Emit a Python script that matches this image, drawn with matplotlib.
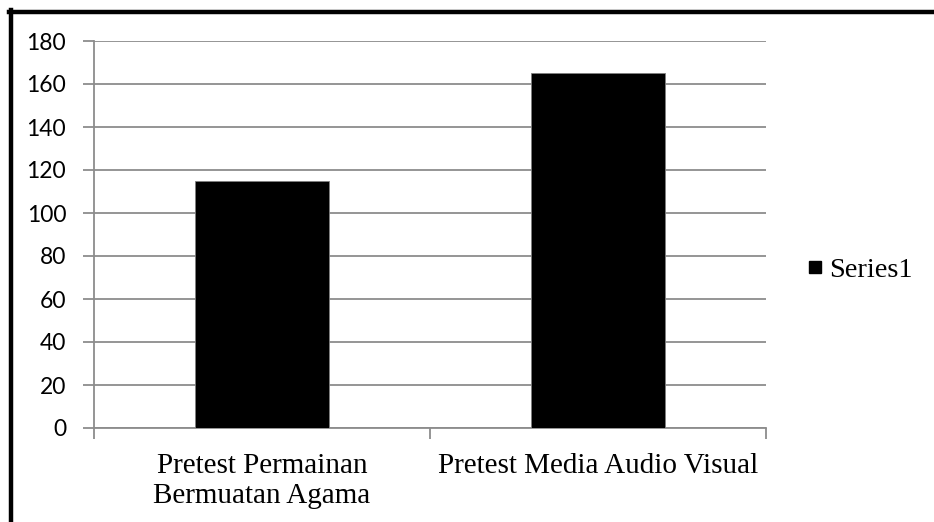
import matplotlib
matplotlib.use("Agg")
import matplotlib.pyplot as plt
from matplotlib.lines import Line2D

categories = ["Pretest Permainan\nBermuatan Agama", "Pretest Media Audio Visual"]
values = [115, 165]
series_name = "Series1"
y_ticks = [0, 20, 40, 60, 80, 100, 120, 140, 160, 180]

W, H = 934, 522
fig = plt.figure(figsize=(W / 100, H / 100), dpi=100)
fig.patch.set_facecolor("white")

ax = fig.add_axes([94 / W, 1 - 428 / H, (766 - 94) / W, (428 - 41) / H])
grid_c = "#8c8c8c"

x = list(range(len(categories)))
bars = ax.bar(x, values, width=0.4, color="black", edgecolor="#808080",
              linewidth=0.6, label=series_name, zorder=3)

ax.set_xlim(-0.5, len(categories) - 0.5)
ax.set_ylim(0, 180)
ax.set_yticks(y_ticks)
ax.set_yticklabels([str(t) for t in y_ticks], fontfamily="Lato", fontsize=16.5)
ax.yaxis.grid(True, color=grid_c, linewidth=1.3, zorder=0)

# category labels centered, tick marks on category boundaries
ax.set_xticks(x)
ax.set_xticklabels(categories, fontfamily="Liberation Serif", fontsize=21,
                   linespacing=1.22)
ax.tick_params(axis="x", length=0, pad=18)
ax.set_xticks([i - 0.5 for i in range(len(categories) + 1)], minor=True)
ax.tick_params(axis="x", which="minor", length=8, color=grid_c, width=1.3,
               direction="out")
ax.tick_params(axis="y", length=8, color=grid_c, width=1.3, direction="out",
               pad=12)

for s in ["top", "right"]:
    ax.spines[s].set_visible(False)
for s in ["left", "bottom"]:
    ax.spines[s].set_color(grid_c)
    ax.spines[s].set_linewidth(1.3)

# legend key: small black square
key = Line2D([], [], linestyle="none", marker="s", markersize=8.5,
             markerfacecolor="black", markeredgecolor="black")
fig.legend(handles=[key], labels=[series_name], loc="center left",
           bbox_to_anchor=(782 / W, 1 - 270 / H), frameon=False,
           prop={"family": "Liberation Serif", "size": 20.5},
           handlelength=0.5, handletextpad=0.25)

# outer chart frame (left and top edges)
fig.add_artist(Line2D([11 / W, 11 / W], [0, 1 - 10 / H], color="black",
                      linewidth=3.2, transform=fig.transFigure))
fig.add_artist(Line2D([9 / W, 1], [1 - 12 / H, 1 - 12 / H], color="black",
                      linewidth=3.2, transform=fig.transFigure))

fig.savefig("out.png", dpi=100)
